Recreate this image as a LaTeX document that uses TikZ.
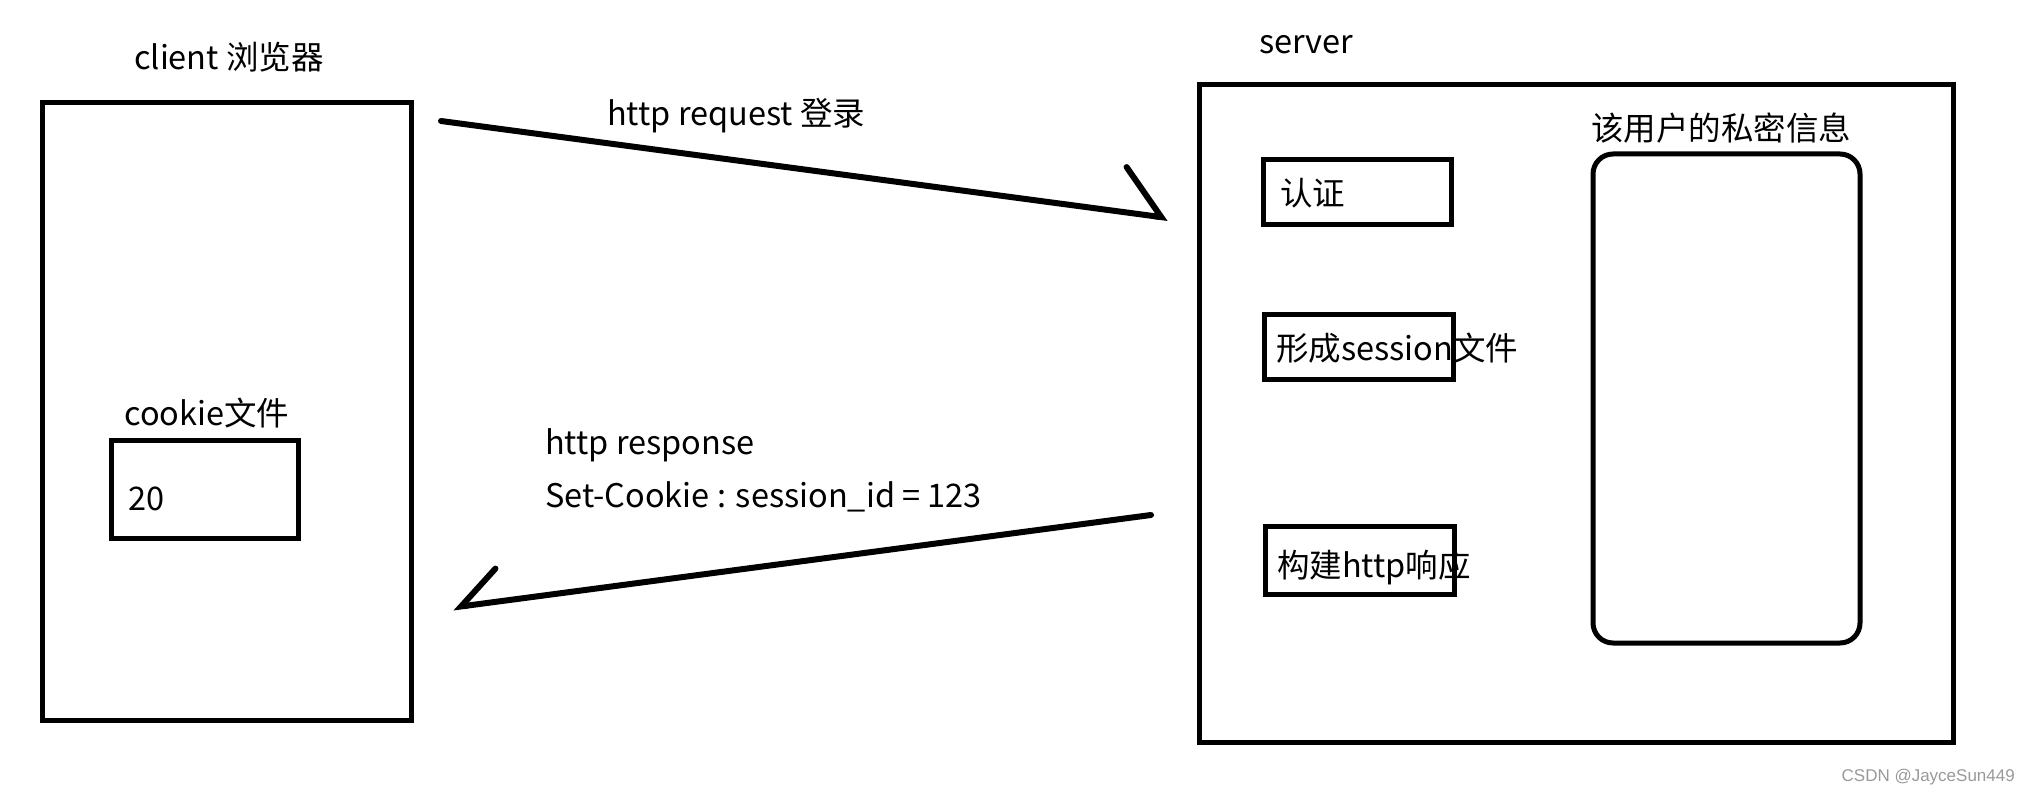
\documentclass[tikz,border=0pt]{standalone}
\usepackage{fontspec}
\setmainfont{Noto Sans CJK SC}
\newfontfamily\markfont{Liberation Sans}
\usetikzlibrary{arrows.meta}

\begin{document}
\begin{tikzpicture}[x=1pt,y=-1pt,
  every node/.style={inner sep=0pt,font=\fontsize{32.5}{38}\selectfont},
  panel/.style 2 args={draw=black,line width=5pt,minimum width=#1,minimum height=#2},
  msg/.style={line width=6pt,line cap=round},
  txt/.style={anchor=base west}]
\useasboundingbox (0,0) rectangle (2041,794);

\node (client)[panel={369pt}{617pt}] at (226.5,411.5) {};
\node (cookie)[panel={187pt}{98pt}] at (204.5,489) {};
\node (server)[panel={754pt}{657pt}] at (1576,413.5) {};
\node (auth)[panel={188pt}{65pt}] at (1357,192.5) {};
\node (sess)[panel={189pt}{65pt}] at (1358.5,346.5) {};
\node (build)[panel={189pt}{68pt}] at (1359.5,560) {};
\node (secret)[panel={267pt}{489pt},rounded corners=20pt] at (1726.5,398.5) {};

\node (clientlbl)[txt] at (134,70) {client 浏览器};
\node (cookielbl)[txt] at (124,425) {cookie文件};
\node (cookieval)[txt] at (128,510) {20};
\node (serverlbl)[txt] at (1259,54) {server};
\node (authlbl)[txt] at (1280,206) {认证};
\node (sesslbl)[txt] at (1276,360) {形成session文件};
\node (buildlbl)[txt] at (1277,577) {构建http响应};
\node (secretlbl)[txt] at (1591,141) {该用户的私密信息};
\node (reqlbl)[txt] at (607,126) {http request 登录};
\node (resplbl)[txt] at (545,454) {http response};
\node (cookielbl2)[txt] at (545,507) {Set-Cookie : session\_id = 123};
\node (mark)[anchor=base east,font=\markfont\fontsize{17}{20}\selectfont,text=black!40] at (2015,781) {CSDN @JayceSun449};

\coordinate (reqfrom) at (441,121);
\coordinate (reqto) at (1168,218);
\coordinate (respfrom) at (1151,515);
\coordinate (respto) at (453,607.5);

\draw[msg,-{Straight Barb[harpoon,length=41pt,width=90pt,line cap=round]}] (reqfrom) -- (reqto);
\draw[msg,-{Straight Barb[harpoon,swap,length=39pt,width=66pt,line cap=round]}] (respfrom) -- (respto);
\end{tikzpicture}
\end{document}
